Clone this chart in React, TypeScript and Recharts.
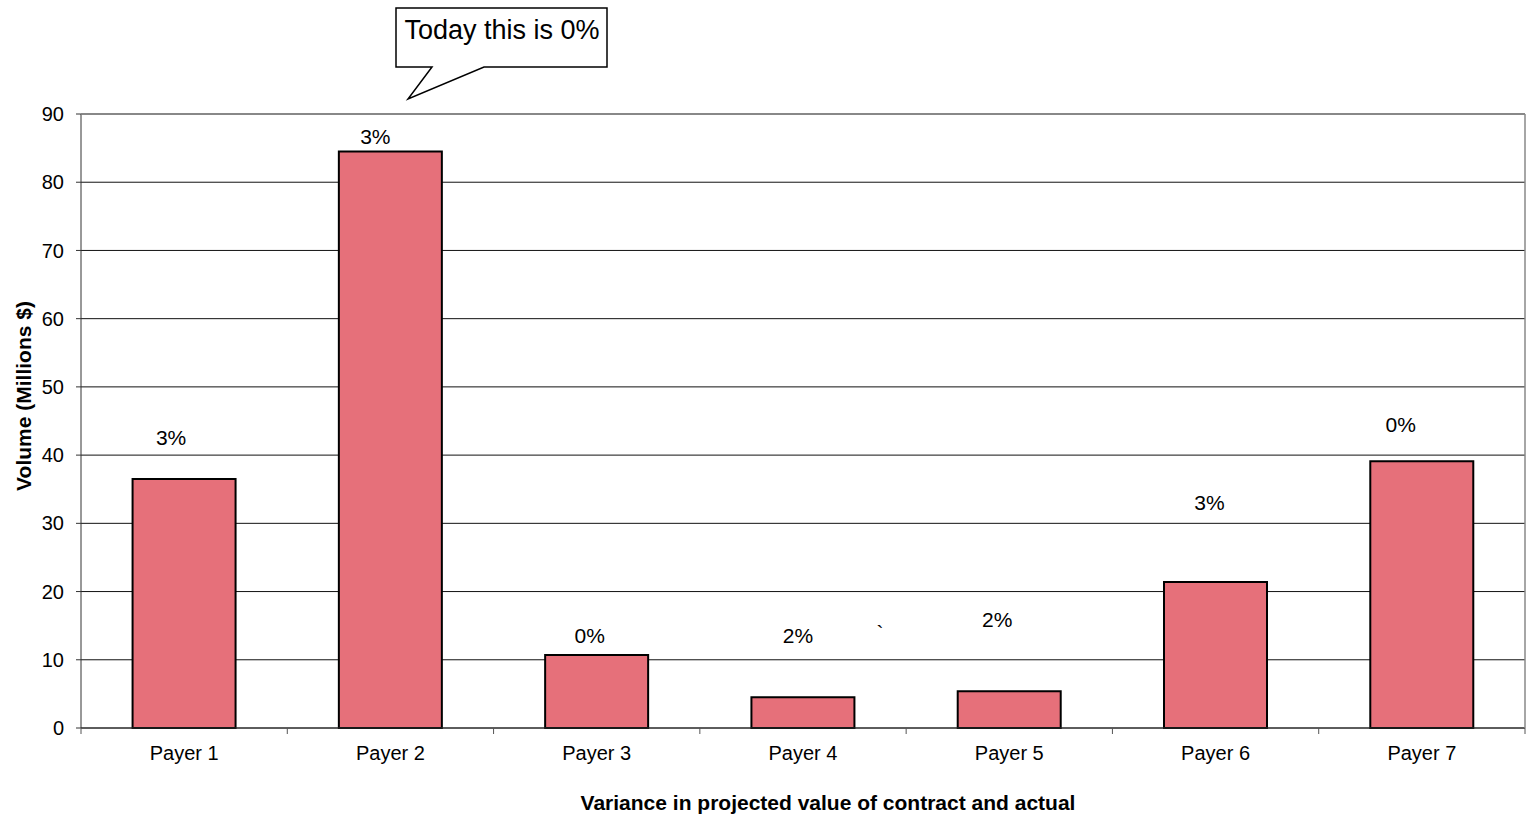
import React from 'react';
import { BarChart, Bar, XAxis, YAxis, CartesianGrid, LabelList, Label } from 'recharts';

const payers = ['Payer 1', 'Payer 2', 'Payer 3', 'Payer 4', 'Payer 5', 'Payer 6', 'Payer 7'];
const volumes = [36.5, 84.5, 10.7, 4.5, 5.4, 21.4, 39.1];
const variance = ['3%', '3%', '0%', '2%', '2%', '3%', '0%'];
const yTicks = [0, 10, 20, 30, 40, 50, 60, 70, 80, 90];

const data = payers.map((name, i) => ({ name, volume: volumes[i], variance: variance[i] }));

// hand-placed labels in the original, offsets from bar top-center
const LABEL_OFFSETS = [
  { dx: -13, dy: -41 },
  { dx: -15, dy: -15 },
  { dx: -7, dy: -19 },
  { dx: -5, dy: -61 },
  { dx: -12, dy: -71 },
  { dx: -6, dy: -79 },
  { dx: -21, dy: -36 },
];

const W = 1527;
const H = 818;
const PLOT_LEFT = 81;
const PLOT_RIGHT = 1525;
const FONT = '"Liberation Sans", Arial, sans-serif';
const HALF_BAND = (PLOT_RIGHT - PLOT_LEFT) / payers.length / 2;

const BarLabel = (props: any) => {
  const { x, y, width, index, value } = props;
  const o = LABEL_OFFSETS[index] || { dx: 0, dy: -10 };
  return (
    <text x={x + width / 2 + o.dx} y={y + o.dy + 7} textAnchor="middle" fontSize={21} fontFamily={FONT} fill="#000">
      {value}
    </text>
  );
};

const XTick = (props: any) => {
  const { x, index, payload } = props;
  const axisY = 728;
  return (
    <g>
      <line x1={x - HALF_BAND} x2={x - HALF_BAND} y1={axisY} y2={axisY + 6} stroke="#555" />
      {index === payers.length - 1 && (
        <line x1={x + HALF_BAND} x2={x + HALF_BAND} y1={axisY} y2={axisY + 6} stroke="#555" />
      )}
      <text x={x} y={axisY + 32} textAnchor="middle" fontSize={20} fontFamily={FONT} fill="#000">
        {payload.value}
      </text>
    </g>
  );
};

export default function App() {
  return (
    <div style={{ position: 'absolute', left: 0, top: 0, width: W, height: H, background: '#fff' }}>
      <BarChart
        width={W}
        height={H}
        data={data}
        margin={{ top: 114, right: W - PLOT_RIGHT, left: 1, bottom: 0 }}
        barCategoryGap="25%"
      >
        <CartesianGrid horizontal vertical={false} stroke="#111" />
        <XAxis
          dataKey="name"
          height={90}
          axisLine={{ stroke: '#333' }}
          tickLine={false}
          tick={<XTick />}
          interval={0}
        >
          <Label
            value="Variance in projected value of contract and actual"
            position="insideBottom"
            offset={8}
            dx={25}
            style={{ fontSize: 21, fontWeight: 'bold', fontFamily: FONT, fill: '#000' }}
          />
        </XAxis>
        <YAxis
          width={PLOT_LEFT - 1}
          domain={[0, 90]}
          ticks={yTicks}
          interval={0}
          tickSize={5}
          tickMargin={12}
          axisLine={{ stroke: '#333' }}
          tickLine={{ stroke: '#333' }}
          tick={{ fontSize: 20, fontFamily: FONT, fill: '#000' }}
        >
          <Label
            value="Volume (Millions $)"
            angle={-90}
            position="insideLeft"
            offset={0}
            dx={23}
            dy={-25}
            style={{ fontSize: 21, fontWeight: 'bold', fontFamily: FONT, fill: '#000', textAnchor: 'middle' }}
          />
        </YAxis>
        <Bar dataKey="volume" fill="#E6707A" stroke="#000" strokeWidth={2} isAnimationActive={false}>
          <LabelList dataKey="variance" content={<BarLabel />} />
        </Bar>
      </BarChart>
      <svg width={W} height={H} style={{ position: 'absolute', left: 0, top: 0, pointerEvents: 'none' }}>
        <line x1={PLOT_RIGHT} x2={PLOT_RIGHT} y1={114} y2={728} stroke="#888" strokeWidth={1.5} />
        <line x1={PLOT_LEFT} x2={PLOT_RIGHT} y1={114} y2={114} stroke="#888" strokeWidth={1.5} />
        <path d="M396,8 H607 V67 H484 L408,99 L432,67 H396 Z" fill="#fff" stroke="#000" strokeWidth={1.5} />
        <text x={502} y={39} textAnchor="middle" fontSize={27} fontFamily={FONT} fill="#000">
          Today this is 0%
        </text>
        <text x={880} y={640} textAnchor="middle" fontSize={21} fontFamily={FONT} fill="#000">
          `
        </text>
      </svg>
    </div>
  );
}
